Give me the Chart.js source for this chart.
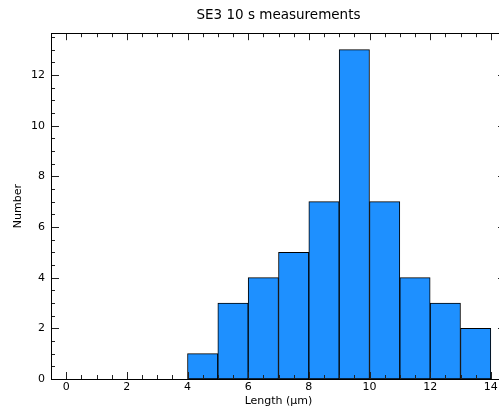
<!DOCTYPE html>
<html>
<head>
<meta charset="utf-8">
<script src="https://cdn.jsdelivr.net/npm/chart.js@4/dist/chart.umd.min.js"></script>
<style>
  body { margin: 0; overflow: hidden; background: #fff; }
</style>
</head>
<body>
<canvas id="hist" width="506" height="413"></canvas>
<script>
// histogram bins (centre of each 1 µm bin) and counts
const binCentres = [4.5, 5.5, 6.5, 7.5, 8.5, 9.5, 10.5, 11.5, 12.5, 13.5];
const counts = [1, 3, 4, 5, 7, 13, 7, 4, 3, 2];
const xTickLabels = [0, 2, 4, 6, 8, 10, 12, 14];
const yTickLabels = [0, 2, 4, 6, 8, 10, 12];

const FONT = "'DejaVu Sans', sans-serif";

// inward major/minor ticks on all four sides + frame
const frameTicks = {
    id: 'frameTicks',
    afterDatasetsDraw(chart) {
        const { ctx, chartArea: a, scales: { x, y } } = chart;
        const px = v => Math.round(v) + 0.5;
        ctx.save();
        ctx.strokeStyle = '#222';
        ctx.lineWidth = 1;
        ctx.beginPath();
        for (let v = Math.ceil(x.min * 2) / 2; v <= x.max; v += 0.5) {
            const p = px(x.getPixelForValue(v));
            if (p <= a.left + 1 || p >= a.right - 1) continue;
            const len = v % 2 === 0 ? 7 : 4;
            ctx.moveTo(p, a.bottom); ctx.lineTo(p, a.bottom - len);
            ctx.moveTo(p, a.top); ctx.lineTo(p, a.top + len);
        }
        for (let v = Math.ceil(y.min * 2) / 2; v <= y.max; v += 0.5) {
            const p = px(y.getPixelForValue(v));
            if (p <= a.top + 1 || p >= a.bottom - 1) continue;
            const len = v % 2 === 0 ? 8 : 4;
            ctx.moveTo(a.left, p); ctx.lineTo(a.left + len, p);
            ctx.moveTo(a.right, p); ctx.lineTo(a.right - len, p);
        }
        ctx.stroke();
        ctx.strokeStyle = '#000';
        ctx.strokeRect(px(a.left), px(a.top), Math.round(a.right - a.left), Math.round(a.bottom - a.top));
        ctx.restore();
    }
};

const ctx = document.getElementById('hist').getContext('2d');
const chart = new Chart(ctx, {
    type: 'bar',
    data: {
        datasets: [{
            data: binCentres.map((c, i) => ({ x: c, y: counts[i] })),
            backgroundColor: '#1E90FF',
            borderColor: '#000',
            borderWidth: 1,
            borderSkipped: false,
            barPercentage: 1,
            categoryPercentage: 1
        }]
    },
    options: {
        responsive: false,
        animation: false,
        layout: { padding: { left: 12, right: 0, top: 0, bottom: 0 } },
        plugins: {
            legend: { display: false },
            tooltip: { enabled: false },
            title: {
                display: true,
                fullSize: false,
                text: 'SE3 10 s measurements',
                color: '#000',
                font: { family: FONT, size: 13.5, weight: 'normal' },
                padding: { top: 7, bottom: 10 }
            }
        },
        scales: {
            x: {
                type: 'linear',
                offset: false,
                min: -0.5,
                max: 14.5,
                grid: { display: false, drawTicks: false },
                border: { display: false },
                afterBuildTicks: s => { s.ticks = xTickLabels.map(v => ({ value: v })); },
                afterFit: s => { s.height = 34; },
                ticks: {
                    color: '#000',
                    padding: 2,
                    maxRotation: 0,
                    autoSkip: false,
                    font: { family: FONT, size: 11 }
                },
                title: {
                    display: true,
                    text: 'Length (µm)',
                    color: '#000',
                    font: { family: FONT, size: 11 },
                    padding: { top: 0, bottom: 5 }
                }
            },
            y: {
                min: 0,
                max: 13.65,
                grid: { display: false, drawTicks: false },
                border: { display: false },
                afterBuildTicks: s => { s.ticks = yTickLabels.map(v => ({ value: v })); },
                afterFit: s => { s.width = 39; },
                ticks: {
                    color: '#000',
                    padding: 6,
                    autoSkip: false,
                    font: { family: FONT, size: 11 }
                },
                title: {
                    display: true,
                    text: 'Number',
                    color: '#000',
                    font: { family: FONT, size: 11 },
                    padding: { top: 0, bottom: 0 }
                }
            }
        }
    },
    plugins: [frameTicks]
});
</script>
</body>
</html>
